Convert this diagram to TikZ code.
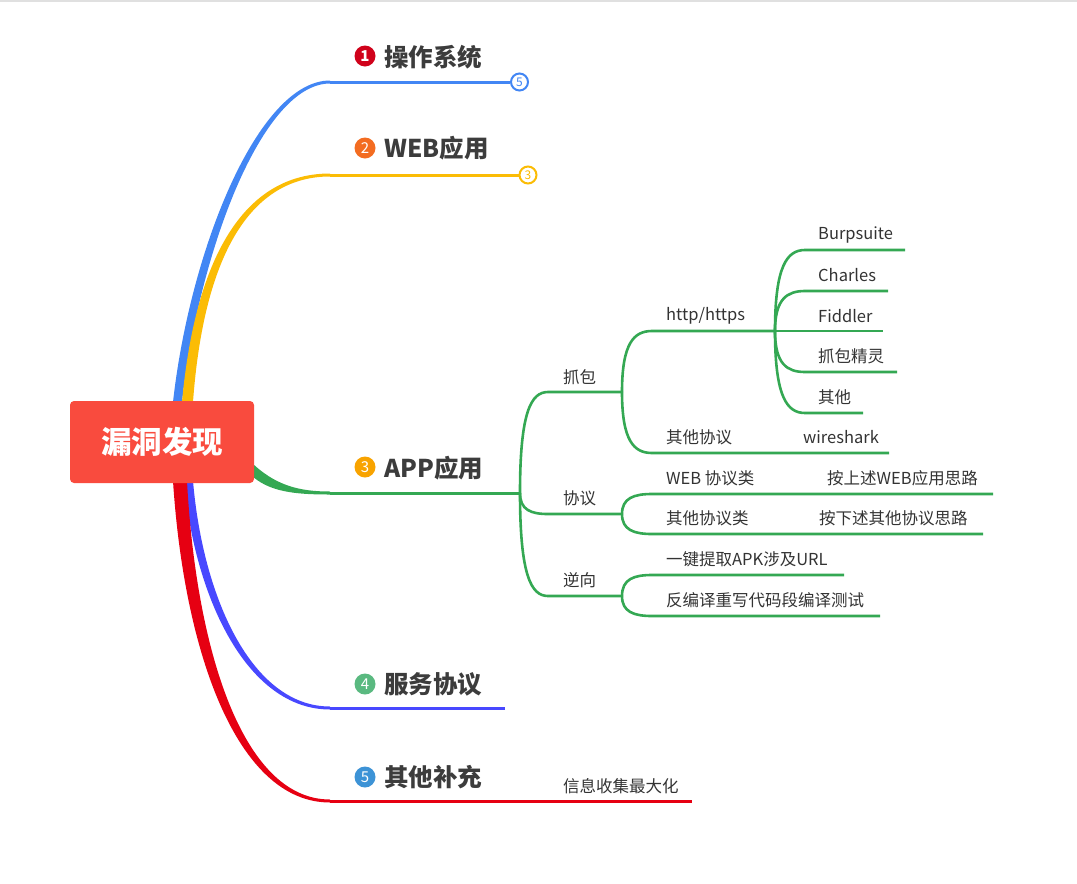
\documentclass[tikz,border=0pt]{standalone}
\usepackage{fontspec}
\setmainfont{Noto Sans CJK SC}
\definecolor{cBlue}{RGB}{66,134,244}
\definecolor{cYellow}{RGB}{251,188,5}
\definecolor{cGreen}{RGB}{52,168,83}
\definecolor{cPurple}{RGB}{72,72,255}
\definecolor{cRed}{RGB}{230,0,18}
\definecolor{cRoot}{RGB}{249,75,62}
\definecolor{txt}{RGB}{51,51,51}
\definecolor{maintxt}{RGB}{60,60,60}
\definecolor{b1}{RGB}{208,2,27}
\definecolor{b2}{RGB}{243,108,33}
\definecolor{b3}{RGB}{248,163,0}
\definecolor{b4}{RGB}{90,185,128}
\definecolor{b5}{RGB}{61,147,214}
\tikzset{
 lbl/.style={anchor=west, inner sep=0, text=txt, font=\fontsize{16.5}{18}\selectfont},
 mainlbl/.style={anchor=west, inner sep=0, text=maintxt, font=\fontsize{24.5}{28}\selectfont\bfseries},
 badge/.style={circle, inner sep=0, minimum size=21, text=white, font=\fontsize{15}{15}\selectfont},
 gline/.style={draw=cGreen, line width=2.6},
 fold/.style={circle, draw, line width=2, fill=white, minimum size=17, inner sep=0, font=\fontsize{12}{12}\selectfont},
}
\begin{document}
\begin{tikzpicture}[x=1pt,y=-1pt]
\useasboundingbox (0,0) rectangle (1077,884);
\fill[black!12] (0,0) rectangle (1077,2);

% trunks (tapered)
\fill[cBlue] (173,402) .. controls (190,250) and (258,80.5) .. (330,80.5) -- (330,83.5) .. controls (262,83.5) and (199,252) .. (182,402) -- cycle;
\fill[cYellow] (182,402) .. controls (196,250) and (248,173.5) .. (330,173.5) -- (330,176.5) .. controls (252,176.5) and (204,252) .. (193,402) -- cycle;
\fill[cPurple] (184,481) .. controls (195,600) and (248,709.5) .. (330,709.5) -- (330,706.5) .. controls (252,706.5) and (203,598) .. (193,481) -- cycle;
\fill[cRed] (173,481) .. controls (184,650) and (236,802.5) .. (330,802.5) -- (330,799.5) .. controls (242,799.5) and (196,648) .. (187,481) -- cycle;
\fill[cGreen] (250,461) .. controls (275,486) and (300,491.5) .. (330,491.5) -- (330,494.5) .. controls (295,494.5) and (268,492) .. (250,474) -- cycle;

% central node
\node[fill=cRoot, rounded corners=4, minimum width=184, minimum height=82, inner sep=0, text=white, font=\fontsize{30.5}{33}\selectfont\bfseries] (root) at (162,442) {漏洞发现};

% main branch lines
\coordinate (m1) at (330,82);
\coordinate (m2) at (330,175);
\coordinate (m3) at (330,493);
\coordinate (m4) at (330,708);
\coordinate (m5) at (330,801);
\node[fold, draw=cBlue, text=cBlue] (f1) at (519.5,82) {5};
\node[fold, draw=cYellow, text=cYellow] (f2) at (528,175) {3};
\draw[cBlue, line width=3] (m1) -- (f1.west);
\draw[cYellow, line width=3] (m2) -- (f2.west);
\coordinate (j3) at (520,493);
\draw[cGreen, line width=3] (m3) -- (j3);
\coordinate (e4) at (505,708);
\draw[cPurple, line width=3] (m4) -- (e4);
\coordinate (e5) at (692,801);
\draw[cRed, line width=3] (m5) -- (e5);

% badges and main labels
\node[badge, fill=b1, font=\fontsize{15}{15}\selectfont\bfseries] (n1) at (365,56) {1};
\node[mainlbl] (t1) at (384,57) {操作系统};
\node[badge, fill=b2] (n2) at (365,148) {2};
\node[mainlbl] (t2) at (384,148) {WEB应用};
\node[badge, fill=b3] (n3) at (365,467) {3};
\node[mainlbl] (t3) at (384,468) {APP应用};
\node[badge, fill=b4] (n4) at (365,684) {4};
\node[mainlbl] (t4) at (384,684) {服务协议};
\node[badge, fill=b5] (n5) at (365,777) {5};
\node[mainlbl] (t5) at (384,777) {其他补充};

\node[lbl] (info) at (563,786) {信息收集最大化};

% level 2
\coordinate (a1) at (548,392); \coordinate (a1e) at (622,392);
\coordinate (a2) at (548,514); \coordinate (a2e) at (622,514);
\coordinate (a3) at (548,596); \coordinate (a3e) at (622,596);
\draw[gline] (j3) .. controls (520,412) and (531,392) .. (a1) -- (a1e);
\draw[gline] (j3) .. controls (520,510) and (531,514) .. (a2) -- (a2e);
\draw[gline] (j3) .. controls (520,575) and (531,596) .. (a3) -- (a3e);
\node[lbl] (l1) at (563,377) {抓包};
\node[lbl] (l2) at (563,498) {协议};
\node[lbl] (l3) at (563,580) {逆向};

% level 3 under 抓包
\coordinate (h1) at (652,331); \coordinate (hf) at (775,331);
\coordinate (h2) at (652,453); \coordinate (h2e) at (889,453);
\draw[gline] (a1e) .. controls (622,343) and (634,331) .. (h1) -- (hf);
\draw[gline] (a1e) .. controls (622,441) and (634,453) .. (h2) -- (h2e);
\node[lbl] (http) at (666,316) {http/https};
\node[lbl] (oth) at (666,437) {其他协议};
\node[lbl] (wire) at (803,437) {wireshark};

% level 4 under http/https
\coordinate (k1) at (805,250); \coordinate (k1e) at (905,250);
\coordinate (k2) at (805,291); \coordinate (k2e) at (888,291);
\coordinate (k3e) at (883,331);
\coordinate (k4) at (805,372); \coordinate (k4e) at (897,372);
\coordinate (k5) at (805,413); \coordinate (k5e) at (863,413);
\draw[gline] (hf) .. controls (775,266) and (787,250) .. (k1) -- (k1e);
\draw[gline] (hf) .. controls (775,299) and (787,291) .. (k2) -- (k2e);
\draw[gline] (hf) -- (k3e);
\draw[gline] (hf) .. controls (775,364) and (787,372) .. (k4) -- (k4e);
\draw[gline] (hf) .. controls (775,397) and (787,413) .. (k5) -- (k5e);
\node[lbl] (burp) at (818,235) {Burpsuite};
\node[lbl] (charles) at (818,275) {Charles};
\node[lbl] (fiddler) at (818,316) {Fiddler};
\node[lbl] (zbjl) at (818,356) {抓包精灵};
\node[lbl] (qt) at (818,397) {其他};

% level 3 under 协议
\coordinate (p1) at (652,494); \coordinate (p1e) at (993,494);
\coordinate (p2) at (652,534); \coordinate (p2e) at (983,534);
\draw[gline] (a2e) .. controls (622,498) and (634,494) .. (p1) -- (p1e);
\draw[gline] (a2e) .. controls (622,530) and (634,534) .. (p2) -- (p2e);
\node[lbl] (webp) at (666,478) {WEB 协议类};
\node[lbl] (webpa) at (827,478) {按上述WEB应用思路};
\node[lbl] (othp) at (666,518) {其他协议类};
\node[lbl] (othpa) at (819,518) {按下述其他协议思路};

% level 3 under 逆向
\coordinate (r1) at (652,575); \coordinate (r1e) at (844,575);
\coordinate (r2) at (652,616); \coordinate (r2e) at (880,616);
\draw[gline] (a3e) .. controls (622,579) and (634,575) .. (r1) -- (r1e);
\draw[gline] (a3e) .. controls (622,612) and (634,616) .. (r2) -- (r2e);
\node[lbl] (apk) at (666,559) {一键提取APK涉及URL};
\node[lbl] (dec) at (666,600) {反编译重写代码段编译测试};
\end{tikzpicture}
\end{document}
